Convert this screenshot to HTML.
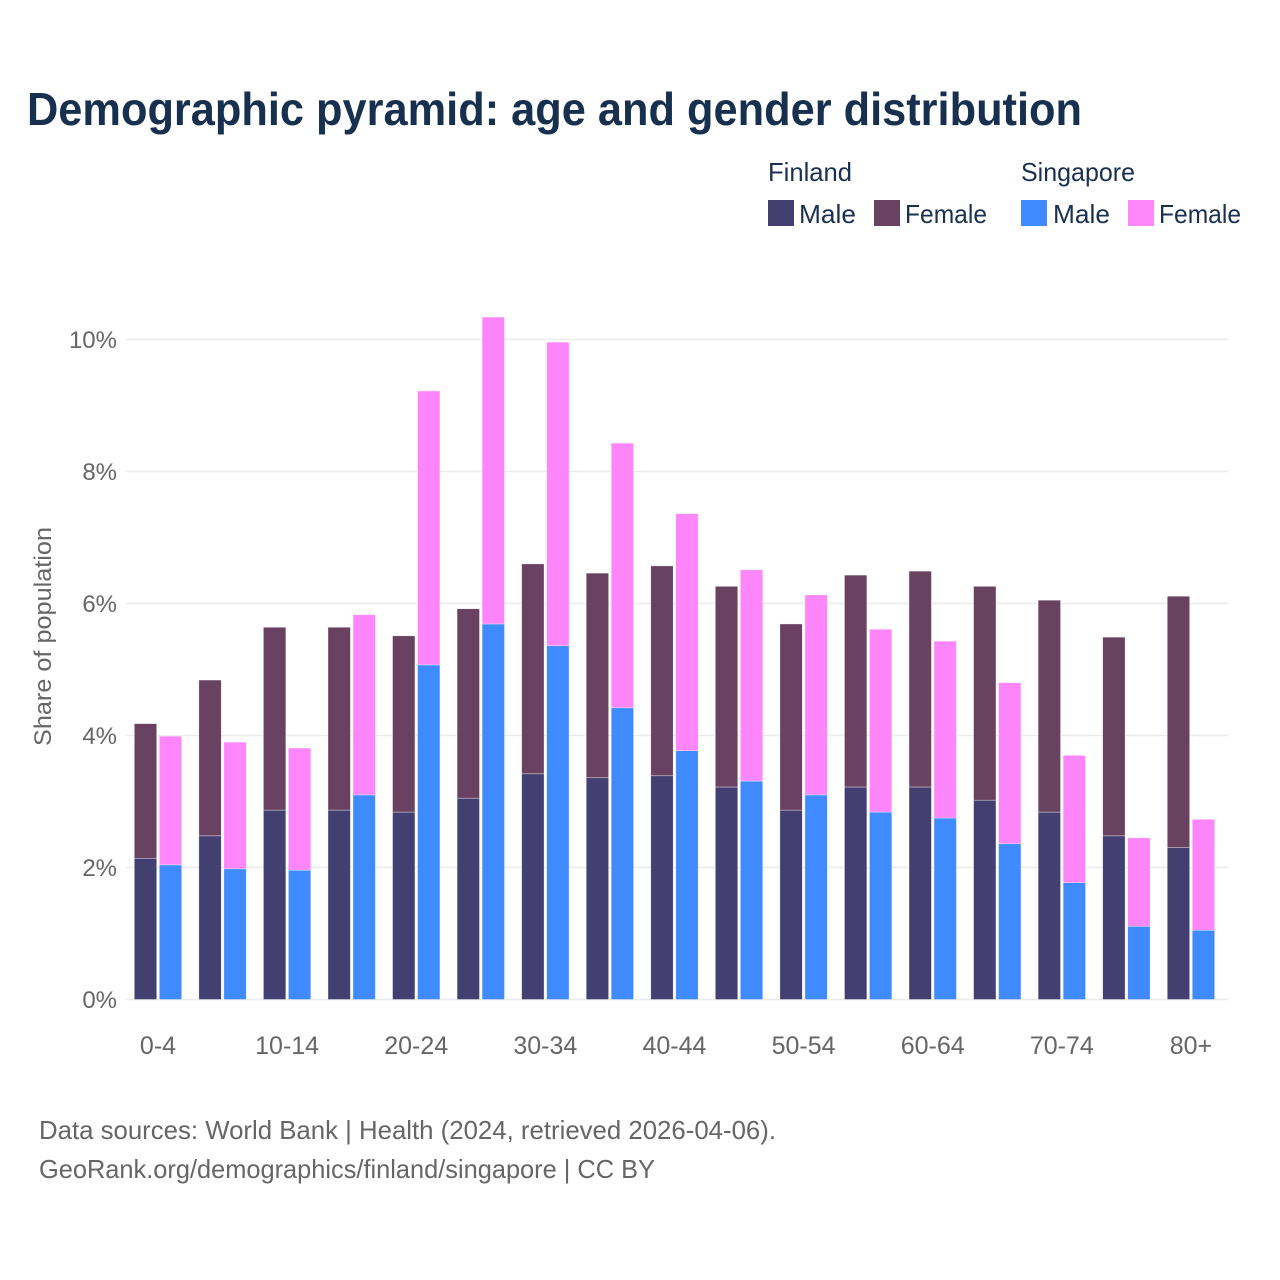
<!DOCTYPE html>
<html lang="en">
<head>
<meta charset="utf-8">
<title>Demographic pyramid</title>
<style>
html,body{margin:0;padding:0;background:#fff}
svg{display:block}
text{font-family:"Liberation Sans",sans-serif}
</style>
</head>
<body>
<svg id="chart" xmlns="http://www.w3.org/2000/svg" width="1280" height="1280" viewBox="0 0 1280 1280">
  <rect x="0" y="0" width="1280" height="1280" fill="#ffffff"/>
  <text x="27" y="125" font-size="46" font-weight="700" fill="#17304f" textLength="1055" lengthAdjust="spacingAndGlyphs">Demographic pyramid: age and gender distribution</text>

  <g font-size="26" fill="#1a3052">
    <text x="768" y="181" textLength="84" lengthAdjust="spacingAndGlyphs">Finland</text>
    <text x="1021" y="181" textLength="114" lengthAdjust="spacingAndGlyphs">Singapore</text>
    <rect x="768" y="200" width="26" height="26" fill="#433f70"/>
    <text x="799" y="223" textLength="57" lengthAdjust="spacingAndGlyphs">Male</text>
    <rect x="874" y="200" width="26" height="26" fill="#684260"/>
    <text x="905" y="223" textLength="82" lengthAdjust="spacingAndGlyphs">Female</text>
    <rect x="1021" y="200" width="26" height="26" fill="#408aff"/>
    <text x="1053" y="223" textLength="57" lengthAdjust="spacingAndGlyphs">Male</text>
    <rect x="1128" y="200" width="26" height="26" fill="#ff85fa"/>
    <text x="1159" y="223" textLength="82" lengthAdjust="spacingAndGlyphs">Female</text>
  </g>

  <g id="grid"></g>
  <g id="bars"></g>
  <g id="y-ticks"></g>
  <g id="x-ticks"></g>

  <text transform="translate(51 746) rotate(-90)" x="0" y="0" font-size="24" fill="#666666" textLength="219" lengthAdjust="spacingAndGlyphs">Share of population</text>

  <text x="39" y="1139" font-size="26" fill="#666666" textLength="737" lengthAdjust="spacingAndGlyphs">Data sources: World Bank | Health (2024, retrieved 2026-04-06).</text>
  <text x="39" y="1178" font-size="26" fill="#666666" textLength="616" lengthAdjust="spacingAndGlyphs">GeoRank.org/demographics/finland/singapore | CC BY</text>
</svg>
<script>
const ageGroups = ["0-4","5-9","10-14","15-19","20-24","25-29","30-34","35-39","40-44","45-49","50-54","55-59","60-64","65-69","70-74","75-79","80+"];
const finlandMale = [2.14,2.48,2.87,2.87,2.84,3.05,3.42,3.36,3.39,3.22,2.87,3.22,3.22,3.02,2.84,2.48,2.30];
const finlandFemale = [2.04,2.36,2.77,2.77,2.67,2.87,3.18,3.10,3.18,3.04,2.82,3.21,3.27,3.24,3.21,3.01,3.81];
const singaporeMale = [2.04,1.98,1.96,3.10,5.07,5.69,5.36,4.42,3.77,3.31,3.10,2.84,2.75,2.36,1.77,1.11,1.05];
const singaporeFemale = [1.95,1.92,1.85,2.73,4.15,4.65,4.60,4.01,3.59,3.20,3.03,2.77,2.68,2.44,1.93,1.34,1.68];
const yTickValues = [0,2,4,6,8,10];
const xTickLabels = ["0-4","10-14","20-24","30-34","40-44","50-54","60-64","70-74","80+"];

const NS = "http://www.w3.org/2000/svg";
const BAR_W = 22.4;
const BAR_OFFSET = 23.7;
function xScale(index){ return 158 + index * 64.56; }
function yScale(value){ return 999.5 - value * 66; }
function make(tag, attrs, parent){
  const el = document.createElementNS(NS, tag);
  for (const k in attrs) el.setAttribute(k, attrs[k]);
  parent.appendChild(el);
  return el;
}

const grid = document.getElementById("grid");
const yTicks = document.getElementById("y-ticks");
yTickValues.forEach(function(v){
  const line = make("line", {x1:126, x2:1228, y1:yScale(v), y2:yScale(v), stroke:"#ebebeb", "stroke-width":1.5}, grid);
  
  
  const label = make("text", {x:117, y:yScale(v)+8.5, "text-anchor":"end", "font-size":24, fill:"#666666"}, yTicks);
  label.textContent = v + "%";
  
  
});

const barsGroup = document.getElementById("bars");
function drawBar(x, base, value, color){
  const top = yScale(base + value);
  const bar = make("rect", {x:x, y:top, width:BAR_W, height:yScale(base) - top, fill:color, stroke:"#ffffff", "stroke-opacity":0.6, "stroke-width":0.6}, barsGroup);
  
  
}
ageGroups.forEach(function(age, i){
  const left = xScale(i) - BAR_OFFSET;
  const right = xScale(i) + 1.3;
  drawBar(left, 0, finlandMale[i], "#433f70");
  drawBar(left, finlandMale[i], finlandFemale[i], "#684260");
  drawBar(right, 0, singaporeMale[i], "#408aff");
  drawBar(right, singaporeMale[i], singaporeFemale[i], "#ff85fa");
});

const xTicks = document.getElementById("x-ticks");
xTickLabels.forEach(function(name){
  const label = make("text", {x:xScale(ageGroups.indexOf(name)), y:1054, "text-anchor":"middle", "font-size":25, fill:"#666666"}, xTicks);
  label.textContent = name;
  
  
});
</script>
</body>
</html>
